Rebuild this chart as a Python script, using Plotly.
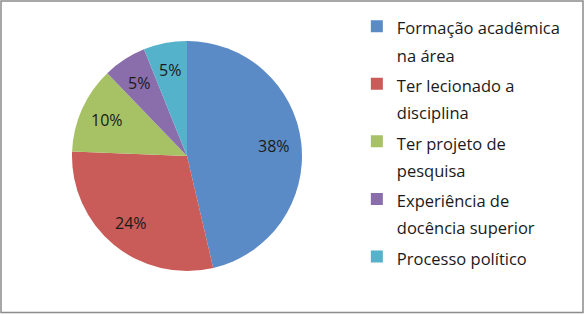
import math
import plotly.graph_objects as go

categories = [
    "Formação acadêmica<br>na área",
    "Ter lecionado a<br>disciplina",
    "Ter projeto de<br>pesquisa",
    "Experiência de<br>docência superior",
    "Processo político",
]
values = [38, 24, 10, 5, 5]
text_labels = [f"{v}%" for v in values]
colors = ["#5B8BC6", "#C95B58", "#A6C265", "#8A6EAC", "#55B2CB"]

W, H = 585, 315
cx, cy, r = 187, 156, 115          # pie centre / radius in pixels (layout)
LABEL_R = 0.76                      # label distance as fraction of radius
FONT = "Open Sans, Noto Sans, sans-serif"
TEXT_PX = 16
LEGEND_PX = 16.5

def styled(label):
    return "<br>".join(f"<span style='font-size:{LEGEND_PX}px'>{part}</span>" for part in label.split("<br>"))

legend_labels = [styled(c) for c in categories]

fig = go.Figure(
    go.Pie(
        labels=legend_labels,
        values=values,
        textinfo="none",
        sort=False,
        direction="clockwise",
        rotation=0,
        marker=dict(colors=colors, line=dict(width=0)),
        hovertext=[c.replace("<br>", " ") for c in categories],
        hoverinfo="text+value",
        domain=dict(x=[(cx - r) / W, (cx + r) / W], y=[1 - (cy + r) / H, 1 - (cy - r) / H]),
    )
)

# slice labels placed along each slice's bisector, computed from the data
total = sum(values)
cum = 0
annotations = []
for v, t in zip(values, text_labels):
    theta = 2 * math.pi * (cum + v / 2) / total
    cum += v
    px = cx + LABEL_R * r * math.sin(theta)
    py = cy - LABEL_R * r * math.cos(theta)
    annotations.append(dict(
        x=px / W, y=1 - py / H, xref="paper", yref="paper", text=t, showarrow=False,
        xanchor="center", yanchor="middle",
        font=dict(family=FONT, size=TEXT_PX, color="#1a1a1a"),
    ))

fig.update_layout(
    width=W,
    height=H,
    margin=dict(l=0, r=0, t=0, b=0),
    paper_bgcolor="white",
    plot_bgcolor="white",
    showlegend=True,
    annotations=annotations,
    legend=dict(
        x=0.610,
        y=1 - 6 / H,
        xanchor="left",
        yanchor="top",
        valign="top",
        font=dict(family=FONT, size=21, color="#1a1a1a"),
        bgcolor="rgba(0,0,0,0)",
    ),
    shapes=[
        dict(type="rect", xref="paper", yref="paper", x0=1 / W, x1=583 / W, y0=1 - 312.5 / H, y1=1 - 1 / H,
             line=dict(color="#8c8c8c", width=1.5), fillcolor="rgba(0,0,0,0)")
    ],
)

fig.write_html("out.html", config={"displayModeBar": False},
               post_script="document.body.style.margin='0';")
